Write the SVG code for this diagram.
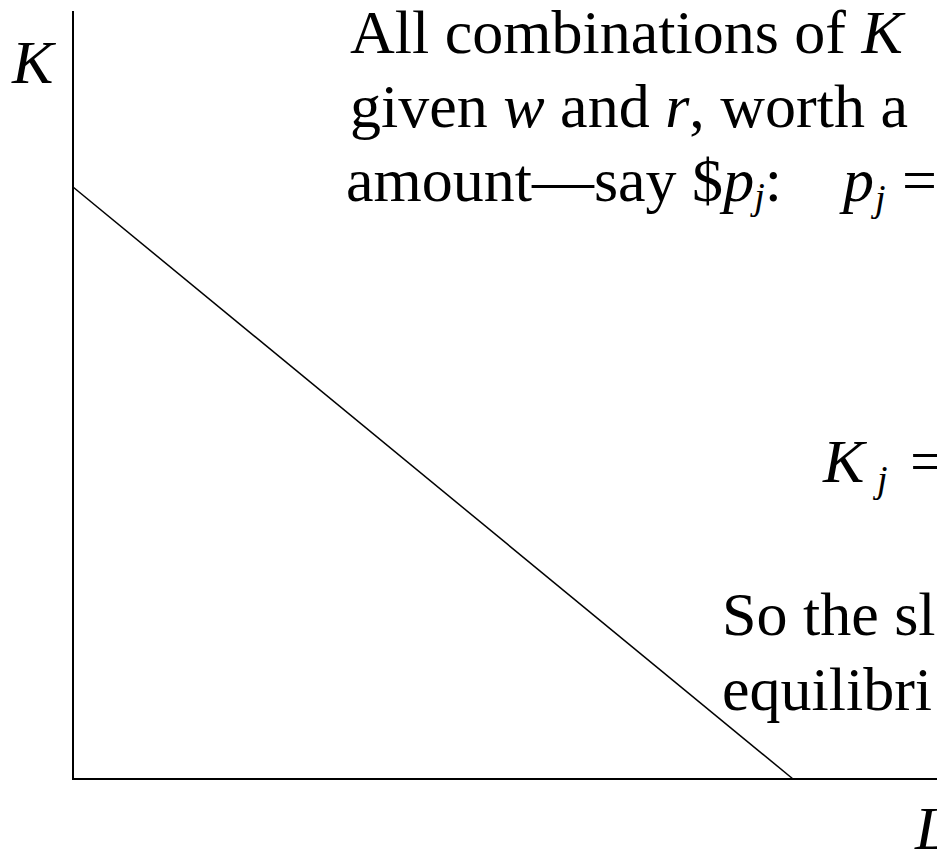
<svg xmlns="http://www.w3.org/2000/svg" width="937" height="852" viewBox="0 0 937 852">
<style>
  text { font-family: "Liberation Serif", "Times New Roman", serif; font-size: 62px; fill: #000; }
  .it { font-style: italic; }
  .sub { font-size: 38px; font-style: italic; }
  .axis { stroke: #000; stroke-width: 2; fill: none; }
  .line { stroke: #000; stroke-width: 1.5; fill: none; }
</style>
<rect width="937" height="852" fill="#fff"/>
<g id="axes">
  <polyline class="axis" points="73,11 73,779 937,779"/>
</g>
<g id="connectors">
  <line class="line" x1="73" y1="187" x2="793" y2="779"/>
</g>
<g id="labels">
  <text class="it" x="12" y="83">K</text>
  <text class="it" x="915" y="849">L</text>
</g>
<g id="text-block">
  <text x="350" y="53">All combinations of <tspan class="it">K</tspan></text>
  <text x="350" y="127">given <tspan class="it">w</tspan> and <tspan class="it">r</tspan>, worth a</text>
  <text x="346" y="201">amount—say $<tspan class="it">p</tspan><tspan class="sub" dy="8">j</tspan><tspan dy="-8">:</tspan></text>
  <text x="843" y="201"><tspan class="it">p</tspan><tspan class="sub" x="875" dy="10">j</tspan><tspan x="902" dy="-10">=</tspan></text>
  <text x="823" y="482"><tspan class="it">K</tspan><tspan class="sub" x="877" dy="10">j</tspan><tspan x="910" dy="-10">=</tspan></text>
  <text x="722" y="635">So the sl</text>
  <text x="722" y="710">equilibri</text>
</g>
</svg>
